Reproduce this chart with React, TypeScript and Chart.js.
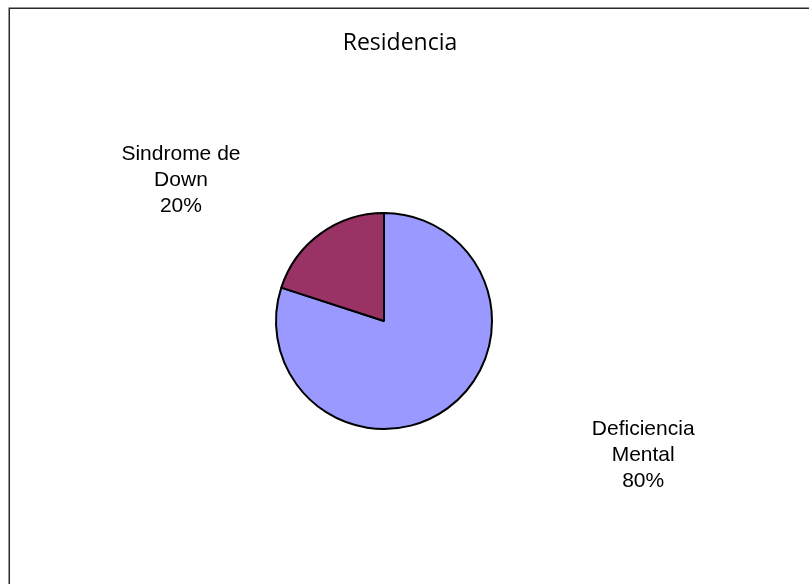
import React, { useEffect, useRef } from "react";
import { Chart, registerables } from "chart.js";

Chart.register(...registerables);

const chartTitle = "Residencia";
const categories = ["Deficiencia Mental", "Sindrome de Down"];
const labelLines = [["Deficiencia", "Mental"], ["Sindrome de", "Down"]];
const values = [80, 20];
const colors = ["#9999FF", "#993366"];
// label anchor offsets relative to pie center, in units of pie radius
const labelOffsets = [
  [2.4, 1.3],
  [-1.88, -1.25],
];

const overlayPlugin = {
  id: "overlay",
  afterDraw(chart: any) {
    const ctx = chart.ctx;
    ctx.save();
    // frame
    ctx.strokeStyle = "#2a2a2a";
    ctx.lineWidth = 1.5;
    ctx.beginPath();
    ctx.moveTo(9.25, chart.height);
    ctx.lineTo(9.25, 8.25);
    ctx.lineTo(chart.width, 8.25);
    ctx.stroke();
    // title
    ctx.fillStyle = "#000";
    ctx.font = "23px 'Open Sans'";
    ctx.textAlign = "center";
    ctx.textBaseline = "alphabetic";
    ctx.fillText(chartTitle, 400, 50);
    // labels
    const meta = chart.getDatasetMeta(0);
    const arc = meta.data[0];
    const cx = arc.x;
    const cy = arc.y;
    const r = arc.outerRadius;
    const total = values.reduce((a, b) => a + b, 0);
    ctx.font = "21px 'Liberation Sans', Arial, sans-serif";
    const lh = 26;
    values.forEach((v, i) => {
      const lx = cx + labelOffsets[i][0] * r;
      const ly = cy + labelOffsets[i][1] * r;
      const lines = [...labelLines[i], Math.round((v / total) * 100) + "%"];
      lines.forEach((t, k) => {
        ctx.fillText(t, lx, ly + (k - 1) * lh);
      });
    });
    ctx.restore();
  },
};

export default function App() {
  const ref = useRef<HTMLCanvasElement | null>(null);
  useEffect(() => {
    if (!ref.current) return;
    const chart = new Chart(ref.current, {
      type: "pie",
      data: {
        labels: categories,
        datasets: [
          {
            data: values,
            backgroundColor: colors,
            borderColor: "#000",
            borderWidth: 2,
          },
        ],
      },
      options: {
        responsive: false,
        animation: false,
        layout: { padding: { left: 275, right: 316, top: 212, bottom: 154 } },
        plugins: {
          legend: { display: false },
          title: { display: false },
          tooltip: { enabled: false },
        },
      },
      plugins: [overlayPlugin],
    });
    return () => chart.destroy();
  }, []);
  return (
    <div style={{ position: "absolute", left: 0, top: 0, width: 809, height: 584, background: "#fff" }}>
      <canvas ref={ref} width={809} height={584} style={{ display: "block" }} />
    </div>
  );
}
